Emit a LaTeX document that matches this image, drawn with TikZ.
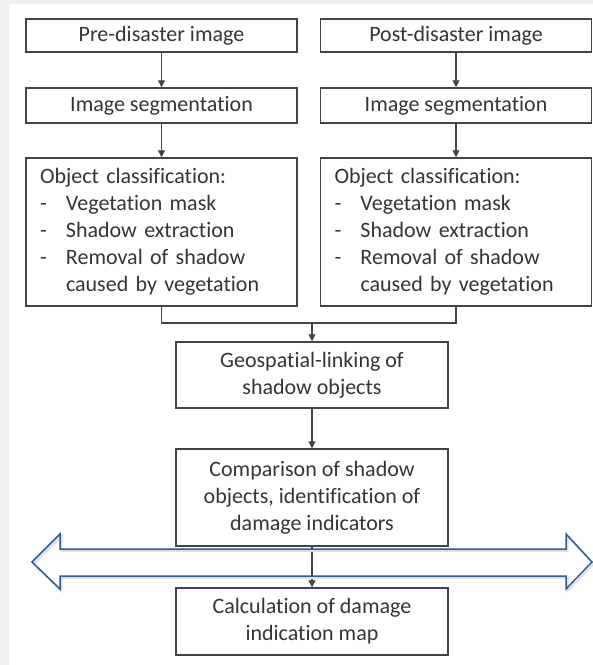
\documentclass[tikz,border=0pt]{standalone}
\usepackage{fontspec}
\setmainfont{Carlito}[Ligatures=NoCommon]
\usepackage{tikz}
\usetikzlibrary{arrows.meta}
\definecolor{txtgray}{HTML}{353535}
\definecolor{linegray}{HTML}{444444}
\definecolor{arrowblue}{HTML}{2F5D98}

\begin{document}
\begin{tikzpicture}[x=1pt, y=1pt,
  font=\fontsize{22}{27}\selectfont, text=txtgray,
  box/.style={draw=linegray, line width=1.5pt, inner sep=0pt, align=center},
  colbox/.style={box, minimum width=271pt},
  midbox/.style={box, minimum width=272pt},
  listbox/.style={colbox, minimum height=148pt, text width=243pt, align=left},
  flow/.style={draw=linegray, line width=1.3pt, -{Triangle[length=7pt, width=7pt]}}]
  \useasboundingbox (0,0) rectangle (593,-665);
  \fill[gray!12] (0,0) rectangle (593,-665);
  \fill[white] (9,-4) rectangle (593,-665);
  % two input columns
  \node[colbox, minimum height=33pt] (pre) at (161.5,-35.5) {Pre-disaster image};
  \node[colbox, minimum height=33pt] (post) at (456,-35.5) {Post-disaster image};
  \node[colbox, minimum height=35pt] (segpre) at (161.5,-105.5) {Image segmentation};
  \node[colbox, minimum height=35pt] (segpost) at (456,-105.5) {Image segmentation};
  \node[listbox] (objpre) at (161.5,-232) {Object classification:\\
    \makebox[26pt][l]{-}Vegetation mask\\
    \makebox[26pt][l]{-}Shadow extraction\\
    \makebox[26pt][l]{-}Removal of shadow\\
    \hspace*{26pt}caused by vegetation};
  \node[listbox] (objpost) at (456,-232) {Object classification:\\
    \makebox[26pt][l]{-}Vegetation mask\\
    \makebox[26pt][l]{-}Shadow extraction\\
    \makebox[26pt][l]{-}Removal of shadow\\
    \hspace*{26pt}caused by vegetation};
  % merged part
  \node[midbox, minimum height=66pt] (link) at (312,-375) {Geospatial-linking of\\shadow objects};
  \node[midbox, minimum height=97pt] (compare) at (312,-497.5) {Comparison of shadow\\objects, identification of\\damage indicators};
  \node[midbox, minimum height=67pt] (damage) at (312,-621.5) {Calculation of damage\\indication map};
  \coordinate (merge) at (link.north |- 0,-323);
  \draw[flow] (pre) -- (segpre);
  \draw[flow] (post) -- (segpost);
  \draw[flow] (segpre) -- (objpre);
  \draw[flow] (segpost) -- (objpost);
  \draw[draw=linegray, line width=1.3pt] (objpre.south) |- (merge) -| (objpost.south);
  \draw[flow] (merge) -- (link);
  \draw[flow] (link) -- (compare);
  \draw[flow] (compare) -- (damage);
  % wide double arrow
  \draw[gray!25, line width=2pt, line join=miter, shift={(1.5,-2)}]
    (32,-562) -- (60,-534) -- (60,-549) -- (566,-549) -- (566,-534) -- (592,-562)
    -- (566,-589) -- (566,-576) -- (60,-576) -- (60,-589) -- cycle;
  \draw[arrowblue, line width=1.5pt, line join=miter]
    (32,-562) -- (60,-534) -- (60,-549) -- (566,-549) -- (566,-534) -- (592,-562)
    -- (566,-589) -- (566,-576) -- (60,-576) -- (60,-589) -- cycle;
\end{tikzpicture}
\end{document}
